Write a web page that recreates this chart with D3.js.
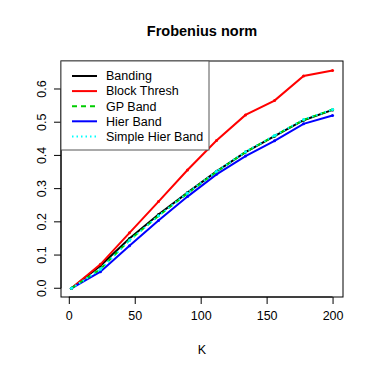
<!DOCTYPE html>
<html><head><meta charset="utf-8">
<script src="https://cdn.jsdelivr.net/npm/d3@7"></script>
<style>body{margin:0;background:#fff}</style>
</head><body>
<svg id="c" width="374" height="374"></svg>
<script>
const K = [2, 24, 46, 68, 90, 112, 134, 156, 178, 200];
const banding = [0, 0.068, 0.150, 0.222, 0.288, 0.352, 0.410, 0.458, 0.506, 0.537];
const blockThresh = [0, 0.072, 0.167, 0.261, 0.356, 0.445, 0.522, 0.565, 0.639, 0.656];
const gpBand = [0, 0.058, 0.145, 0.218, 0.286, 0.351, 0.410, 0.459, 0.507, 0.538];
const hierBand = [0, 0.050, 0.128, 0.204, 0.276, 0.343, 0.398, 0.444, 0.495, 0.520];
const simpleHierBand = [0, 0.057, 0.144, 0.218, 0.287, 0.352, 0.411, 0.460, 0.508, 0.538];
const seriesNames = ["Banding", "Block Thresh", "GP Band", "Hier Band", "Simple Hier Band"];
const xTicks = [0, 50, 100, 150, 200];
const yTicks = [0.0, 0.1, 0.2, 0.3, 0.4, 0.5, 0.6];

const styles = {
  "Banding": {values: banding, color: "#000000", dash: null},
  "Block Thresh": {values: blockThresh, color: "#ff0000", dash: null},
  "GP Band": {values: gpBand, color: "#00cd00", dash: "5,4"},
  "Hier Band": {values: hierBand, color: "#0000ff", dash: null},
  "Simple Hier Band": {values: simpleHierBand, color: "#00ffff", dash: "1.5,3"}
};
const drawOrder = ["Banding", "Block Thresh", "Hier Band", "GP Band", "Simple Hier Band"];

const svg = d3.select("#c");
const L = 61, R = 343, T = 61, B = 297;
const x = d3.scaleLinear().domain([-5.92, 207.92]).range([L, R]);
const y = d3.scaleLinear().domain([-0.0263, 0.6843]).range([B, T]);
const font = "Liberation Sans, Arial, sans-serif";

const line = d3.line().x((d, i) => x(K[i])).y(d => y(d));
drawOrder.forEach(n => {
  const s = styles[n];
  svg.append("path").datum(s.values).attr("d", line)
    .attr("fill", "none").attr("stroke", s.color).attr("stroke-width", 2)
    .attr("stroke-dasharray", s.dash);
  svg.selectAll(null).data(s.values).enter().append("circle")
    .attr("cx", (d, i) => x(K[i])).attr("cy", d => y(d)).attr("r", 1.5)
    .attr("fill", s.color);
});

svg.append("rect").attr("x", L).attr("y", T).attr("width", R - L).attr("height", B - T)
  .attr("fill", "none").attr("stroke", "#000").attr("stroke-width", 1);

const xa = svg.append("g").attr("transform", `translate(0,${B})`)
  .call(d3.axisBottom(x).tickValues(xTicks).tickSize(7).tickPadding(7).tickFormat(d3.format("d")));
xa.select(".domain").attr("d", `M${x(0)},0H${x(200)}`);
xa.selectAll("text").attr("font-size", 12.5).attr("font-family", font).attr("fill", "#000");

const ya = svg.append("g").attr("transform", `translate(${L},0)`)
  .call(d3.axisLeft(y).tickValues(yTicks).tickSize(7).tickFormat(d3.format(".1f")));
ya.select(".domain").attr("d", `M0,${y(0)}V${y(0.6)}`);
ya.selectAll(".tick").attr("transform", null);
ya.selectAll(".tick line").attr("y1", d => y(d)).attr("y2", d => y(d));
ya.selectAll(".tick text").attr("font-size", 12.5).attr("font-family", font).attr("fill", "#000")
  .attr("x", -19).attr("y", d => y(d)).attr("dy", "0.35em").attr("text-anchor", "middle")
  .attr("transform", d => `rotate(-90, -19, ${y(d)})`);

svg.append("text").attr("x", 202).attr("y", 36).attr("text-anchor", "middle")
  .attr("font-family", font).attr("font-weight", "bold").attr("font-size", 14.5).text("Frobenius norm");
svg.append("text").attr("x", 202).attr("y", 354).attr("text-anchor", "middle")
  .attr("font-family", font).attr("font-size", 12.5).text("K");

const lg = svg.append("g");
lg.append("rect").attr("x", L).attr("y", T).attr("width", 148).attr("height", 89)
  .attr("fill", "#fff").attr("stroke", "#555").attr("stroke-width", 1);
seriesNames.forEach((n, i) => {
  const s = styles[n];
  const yy = 76 + i * 15.1;
  lg.append("line").attr("x1", 72).attr("x2", 97).attr("y1", yy).attr("y2", yy)
    .attr("stroke", s.color).attr("stroke-width", 2).attr("stroke-dasharray", s.dash);
  lg.append("text").attr("x", 106).attr("y", yy).attr("dy", "0.35em")
    .attr("font-family", font).attr("font-size", 12.5).text(n);
});
</script>
</body></html>
